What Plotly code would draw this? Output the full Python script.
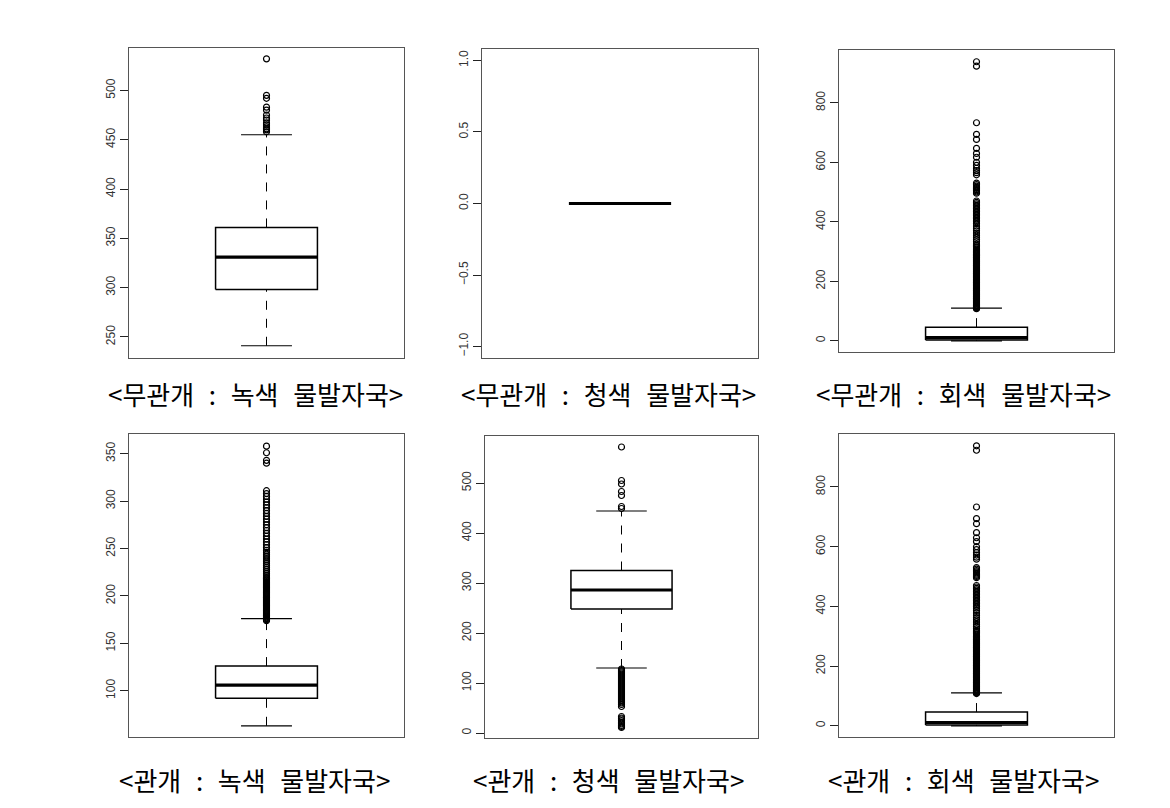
import plotly.graph_objects as go

W, H = 1170, 808

SP = "\u2002\u200a"
GAP = "\u2002\u200a"
titles = [f"<무관개{SP}:{SP}녹색{GAP}물발자국>", f"<무관개{SP}:{SP}청색{GAP}물발자국>", f"<무관개{SP}:{SP}회색{GAP}물발자국>",
          f"<관개{SP}:{SP}녹색{GAP}물발자국>", f"<관개{SP}:{SP}청색{GAP}물발자국>", f"<관개{SP}:{SP}회색{GAP}물발자국>"]

# five-number summaries: lower whisker, Q1, median, Q3, upper whisker
stats_p1 = [241, 298, 331, 361, 455]
stats_p2 = [0, 0, 0, 0, 0]
stats_p3 = [0, 3, 11, 46, 110]
stats_p4 = [63, 92, 106, 126, 176]
stats_p5 = [130, 248, 286, 325, 444]
stats_p6 = [0, 3, 11, 46, 110]

out_p1 = [458, 460, 461, 463, 465, 467, 470, 472, 475, 480, 483, 492, 495, 532]
out_p2 = []
out_p3 = [108, 110, 112, 114, 116, 118, 120, 123, 126, 129, 132, 135, 138, 141, 144, 147, 150, 153,
          156, 159, 162, 165, 168, 171, 174, 177, 180, 183, 186, 189, 192, 195, 198, 201, 204, 207,
          210, 213, 216, 219, 222, 225, 228, 231, 234, 237, 240, 243, 246, 249, 252, 255, 258, 261,
          264, 267, 270, 273, 276, 279, 282, 285, 288, 291, 294, 297, 300, 304, 308, 312, 316, 320,
          325, 333, 340, 348, 355, 362, 370, 378, 386, 394, 400, 405, 410, 415, 420, 425, 430, 435,
          440, 445, 450, 455, 460, 465, 470, 496, 500, 504, 508, 512, 516, 520, 525, 530, 558, 565,
          572, 580, 590, 600, 617, 630, 647, 677, 694, 733, 923, 938]
out_p4 = [174, 175, 176, 177, 178, 179, 180, 181, 182, 183, 184, 185, 186, 187, 188, 189, 190, 191,
          192, 193, 194, 195, 196, 197, 198, 199, 200, 201, 202, 203, 204, 205, 206, 207, 208, 209,
          210, 211, 212, 213, 214, 215, 216, 217, 218, 219, 220, 222, 224, 226, 228, 230, 232, 234,
          236, 238, 240, 242, 244, 246, 248, 251, 254, 257, 260, 263, 266, 269, 272, 275, 278, 281,
          284, 287, 290, 293, 296, 299, 302, 305, 308, 311, 340, 343, 351, 358]
out_p5 = [11, 13, 15, 18, 20, 22, 25, 28, 30, 33, 53, 57, 60, 62, 64, 66, 68, 70, 72, 74, 76, 78,
          80, 82, 84, 86, 88, 90, 92, 94, 96, 98, 100, 102, 104, 106, 108, 110, 112, 114, 116, 118,
          120, 122, 124, 126, 128, 449, 453, 475, 483, 498, 505, 572]
out_p6 = list(out_p3)

y_ranges = [[228.6, 543.0], [-1.08, 1.08], [-37.6, 977.5], [51.2, 370.8], [-10, 594], [-37.6, 977.5]]
y_ticks = [[250, 300, 350, 400, 450, 500], [-1.0, -0.5, 0.0, 0.5, 1.0], [0, 200, 400, 600, 800],
           [100, 150, 200, 250, 300, 350], [0, 100, 200, 300, 400, 500], [0, 200, 400, 600, 800]]
y_fmt = ["d", ".1f", "d", "d", "d", "d"]

# panel frames in pixels: (x0, x1, ytop, ybottom)
frames = [(129, 404, 48, 358), (482, 758, 49, 358), (839, 1114, 50, 352),
          (129, 404, 434, 737), (485, 758, 436, 738), (839, 1114, 434, 737)]
title_pos = [(255, 393), (608, 393), (963, 393), (254, 779), (608, 779), (963, 779)]

all_stats = [stats_p1, stats_p2, stats_p3, stats_p4, stats_p5, stats_p6]
all_out = [out_p1, out_p2, out_p3, out_p4, out_p5, out_p6]

fig = go.Figure()
BL = "black"
for i in range(6):
    xa = "x" if i == 0 else f"x{i+1}"
    ya = "y" if i == 0 else f"y{i+1}"
    lo, q1, med, q3, hi = all_stats[i]
    common = dict(xaxis=xa, yaxis=ya, showlegend=False, hoverinfo="skip", mode="lines")
    if not (lo == q1 == med == q3 == hi):
        fig.add_trace(go.Scatter(x=[1, 1], y=[q3, hi], line=dict(color=BL, width=1, dash="dash"), **common))
        fig.add_trace(go.Scatter(x=[1, 1], y=[lo, q1], line=dict(color=BL, width=1, dash="dash"), **common))
        fig.add_trace(go.Scatter(x=[0.9, 1.1], y=[hi, hi], line=dict(color=BL, width=1.2), **common))
        fig.add_trace(go.Scatter(x=[0.9, 1.1], y=[lo, lo], line=dict(color=BL, width=1.2), **common))
        fig.add_trace(go.Scatter(x=[0.8, 1.2, 1.2, 0.8, 0.8], y=[q1, q1, q3, q3, q1],
                                 line=dict(color=BL, width=1.5), **common))
    fig.add_trace(go.Scatter(x=[0.8, 1.2], y=[med, med], line=dict(color=BL, width=3.2), **common))
    if all_out[i]:
        fig.add_trace(go.Scatter(x=[1] * len(all_out[i]), y=all_out[i], mode="markers",
                                 marker=dict(symbol="circle-open", size=6, color=BL, line=dict(width=1.2)),
                                 xaxis=xa, yaxis=ya, showlegend=False, hoverinfo="skip"))

layout = dict(width=W, height=H, margin=dict(l=0, r=0, t=0, b=0),
              paper_bgcolor="white", plot_bgcolor="white", showlegend=False,
              font=dict(family="Liberation Sans, Arial", size=12, color="#333"))
annotations = []
for i in range(6):
    x0, x1, yt, yb = frames[i]
    xk = "xaxis" if i == 0 else f"xaxis{i+1}"
    yk = "yaxis" if i == 0 else f"yaxis{i+1}"
    xname = "x" if i == 0 else f"x{i+1}"
    yname = "y" if i == 0 else f"y{i+1}"
    layout[xk] = dict(domain=[x0 / W, x1 / W], range=[0.46, 1.54], anchor=yname,
                      showticklabels=False, ticks="", showgrid=False, zeroline=False,
                      showline=True, mirror=True, linecolor="#555", linewidth=1)
    layout[yk] = dict(domain=[1 - yb / H, 1 - yt / H], range=y_ranges[i], anchor=xname,
                      tickvals=y_ticks[i], tickformat=y_fmt[i], tickangle=-90,
                      ticks="outside", ticklen=8, tickwidth=1, tickcolor="#222",
                      showgrid=False, zeroline=False, showline=True, mirror=True,
                      linecolor="#555", linewidth=1,
                      tickfont=dict(family="Liberation Sans, Arial", size=12, color="#333"))
    tx, ty = title_pos[i]
    annotations.append(dict(text=titles[i], x=tx / W, y=1 - ty / H, xref="paper", yref="paper",
                            showarrow=False, xanchor="center", yanchor="middle",
                            font=dict(family="Noto Sans CJK KR", size=26, color="black")))
layout["annotations"] = annotations
fig.update_layout(**layout)
fig.write_html("out.html")
